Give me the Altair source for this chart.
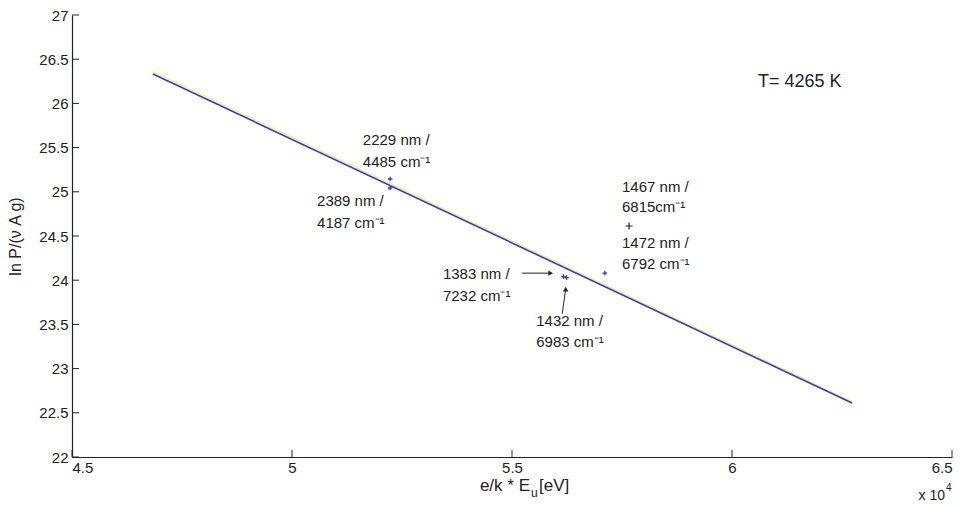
import altair as alt
import pandas as pd

FONT = "Liberation Sans"

# fit line (x in units of 1e4)
fit_x = [4.684, 6.273]
fit_y = [26.333, 22.611]
fit2_y = [26.36, 22.625]

# measured points
pt_x = [5.223, 5.223, 5.711, 5.617, 5.624]
pt_y = [25.145, 25.043, 24.081, 24.04, 24.03]
big_x = [5.766]
big_y = [24.613]

# annotations
ann_text = ["2229 nm /", "4485 cm⁻¹", "2389 nm /", "4187 cm⁻¹",
            "1467 nm /", "6815cm⁻¹", "1472 nm /", "6792 cm⁻¹",
            "1383 nm /", "7232 cm⁻¹", "1432 nm /", "6983 cm⁻¹"]
ann_x = [5.161, 5.161, 5.057, 5.057, 5.75, 5.75, 5.75, 5.75,
         5.343, 5.343, 5.555, 5.555]
ann_y = [25.586, 25.337, 24.896, 24.647, 25.054, 24.828, 24.421, 24.183,
         24.07, 23.821, 23.538, 23.301]

temp_text = ["T= 4265 K"]
temp_x = [6.059]
temp_y = [26.242]

# arrows
arr_x = [5.523, 5.614]
arr_y = [24.08, 23.618]
arr_x2 = [5.588, 5.622]
arr_y2 = [24.08, 23.90]
head_shape = ["triangle-right", "triangle-up"]

x_ticks = [4.5, 5.0, 5.5, 6.0, 6.5]
y_ticks = [22, 22.5, 23, 23.5, 24, 24.5, 25, 25.5, 26, 26.5, 27]

# x-axis title pieces: main text, subscript, unit
xt_parts = ["e/k * E", "u", "[eV]"]
xt_sizes = [17, 12, 17]

W, H = 880, 442
xs = alt.Scale(domain=[4.5, 6.5], nice=False)
ys = alt.Scale(domain=[22, 27], nice=False)

xax = alt.Axis(values=x_ticks, format="~g", title=None,
               tickSize=0, labelPadding=3)
yax = alt.Axis(values=y_ticks, format="~g", title="ln P/(ν A g)",
               tickSize=0, labelPadding=4, titlePadding=15)

fit_df = pd.DataFrame({"x": fit_x, "y": fit_y, "y2": fit2_y})
base_fit = alt.Chart(fit_df)
yellow = base_fit.mark_line(color="#e9e27a", strokeWidth=1.5, opacity=0.7).encode(
    x=alt.X("x:Q", scale=xs, axis=xax), y=alt.Y("y2:Q", scale=ys, axis=yax))
blue = base_fit.mark_line(color="#3a3ab4", strokeWidth=1.6).encode(
    x=alt.X("x:Q", scale=xs), y=alt.Y("y:Q", scale=ys))

plus = "M-1,0L1,0M0,-1L0,1"
pts = alt.Chart(pd.DataFrame({"x": pt_x, "y": pt_y})).mark_point(
    shape=plus, color="#3a3ab4", size=22, strokeWidth=1.3, filled=False, opacity=1).encode(
    x=alt.X("x:Q", scale=xs), y=alt.Y("y:Q", scale=ys))
big = alt.Chart(pd.DataFrame({"x": big_x, "y": big_y})).mark_point(
    shape=plus, color="#222", size=50, strokeWidth=1.2, filled=False, opacity=1).encode(
    x=alt.X("x:Q", scale=xs), y=alt.Y("y:Q", scale=ys))

ann = alt.Chart(pd.DataFrame({"t": ann_text, "x": ann_x, "y": ann_y})).mark_text(
    align="left", baseline="middle", font=FONT, fontSize=15, color="#222").encode(
    x=alt.X("x:Q", scale=xs), y=alt.Y("y:Q", scale=ys), text="t:N")
temp = alt.Chart(pd.DataFrame({"t": temp_text, "x": temp_x, "y": temp_y})).mark_text(
    align="left", baseline="middle", font=FONT, fontSize=18, color="#222").encode(
    x=alt.X("x:Q", scale=xs), y=alt.Y("y:Q", scale=ys), text="t:N")

arr_df = pd.DataFrame({"x": arr_x, "y": arr_y, "x2": arr_x2, "y2": arr_y2, "s": head_shape})
arrows = alt.Chart(arr_df).mark_rule(color="#222", strokeWidth=1).encode(
    x=alt.X("x:Q", scale=xs), y=alt.Y("y:Q", scale=ys), x2="x2:Q", y2="y2:Q")
heads = alt.Chart(arr_df).mark_point(filled=True, color="#222", size=30, opacity=1).encode(
    x=alt.X("x2:Q", scale=xs), y=alt.Y("y2:Q", scale=ys),
    shape=alt.Shape("s:N", scale=None, legend=None))

xt = alt.Chart(pd.DataFrame({"v": x_ticks})).mark_rule(color="#222", strokeWidth=1).encode(
    x=alt.X("v:Q", scale=xs), y=alt.value(H), y2=alt.value(H - 7))
yt = alt.Chart(pd.DataFrame({"v": y_ticks})).mark_rule(color="#222", strokeWidth=1).encode(
    y=alt.Y("v:Q", scale=ys), x=alt.value(0), x2=alt.value(7))

# x-axis title built from pieces to get a real subscript
t1 = alt.Chart(pd.DataFrame({"t": [xt_parts[0]]})).mark_text(
    align="right", baseline="middle", font=FONT, fontSize=xt_sizes[0], color="#222").encode(
    x=alt.value(458), y=alt.value(H + 29), text="t:N")
t2 = alt.Chart(pd.DataFrame({"t": [xt_parts[1]]})).mark_text(
    align="left", baseline="middle", font=FONT, fontSize=xt_sizes[1], color="#222").encode(
    x=alt.value(459), y=alt.value(H + 36), text="t:N")
t3 = alt.Chart(pd.DataFrame({"t": [xt_parts[2]]})).mark_text(
    align="left", baseline="middle", font=FONT, fontSize=xt_sizes[2], color="#222").encode(
    x=alt.value(467), y=alt.value(H + 29), text="t:N")

e1 = alt.Chart(pd.DataFrame({"t": ["x 10"]})).mark_text(
    align="right", baseline="middle", font=FONT, fontSize=14, color="#222").encode(
    x=alt.value(W - 7), y=alt.value(H + 39), text="t:N")
e2 = alt.Chart(pd.DataFrame({"t": ["4"]})).mark_text(
    align="left", baseline="middle", font=FONT, fontSize=10, color="#222").encode(
    x=alt.value(W - 6), y=alt.value(H + 31), text="t:N")

chart = alt.layer(yellow, blue, xt, yt, arrows, heads, pts, big, ann, temp,
                  t1, t2, t3, e1, e2).properties(
    width=W, height=H,
    autosize=alt.AutoSizeParams(type="none"),
    padding={"left": 72, "top": 15, "right": 14, "bottom": 51},
    background="white",
).configure_view(stroke=None).configure_axis(
    grid=False, domainColor="#222", domainWidth=1.2,
    labelFont=FONT, labelFontSize=15, labelColor="#222",
    titleFont=FONT, titleFontSize=16, titleFontWeight="normal", titleColor="#222",
)

chart.save("out.html", embed_options={"renderer": "svg", "actions": False})
